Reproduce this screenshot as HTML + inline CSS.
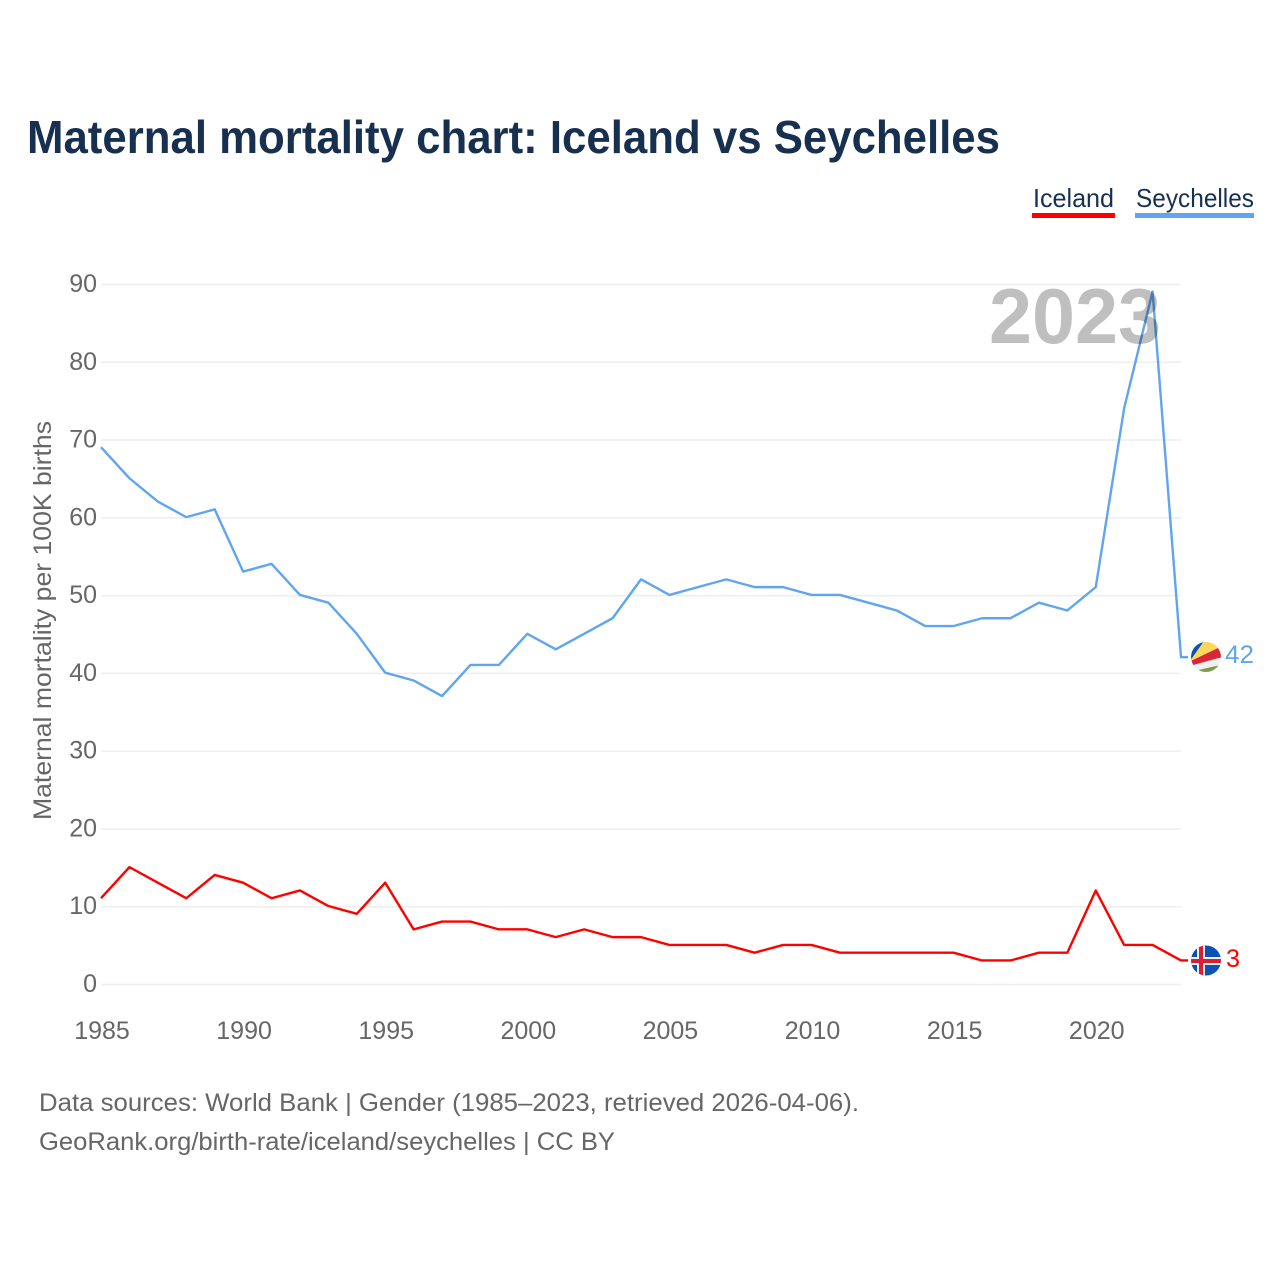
<!DOCTYPE html>
<html lang="en">
<head>
<meta charset="utf-8">
<title>Maternal mortality chart: Iceland vs Seychelles</title>
<style>
html,body{margin:0;padding:0;background:#fff;}
svg{display:block;font-family:"Liberation Sans",sans-serif;}
</style>
</head>
<body>
<svg id="chart" xmlns="http://www.w3.org/2000/svg" width="1280" height="1280" viewBox="0 0 1280 1280">
  <defs>
    <clipPath id="flag-clip-sc"><circle cx="1206" cy="657" r="15"/></clipPath>
    <clipPath id="flag-clip-is"><circle cx="1206" cy="960.5" r="15"/></clipPath>
  </defs>
  <rect width="1280" height="1280" fill="#fff"/>
  <text x="27" y="153" font-size="46" font-weight="700" fill="#18304f" textLength="973" lengthAdjust="spacingAndGlyphs">Maternal mortality chart: Iceland vs Seychelles</text>

  <g>
    <g>
      <text x="1033" y="207" font-size="26" fill="#18304f" textLength="81" lengthAdjust="spacingAndGlyphs">Iceland</text>
      <rect x="1032" y="213" width="83" height="5" fill="#ff0000"/>
    </g>
    <g>
      <text x="1136" y="207" font-size="26" fill="#18304f" textLength="118" lengthAdjust="spacingAndGlyphs">Seychelles</text>
      <rect x="1135" y="213" width="119" height="5" fill="#60a5ee"/>
    </g>
  </g>

  <g id="grid"></g>
  <g id="y-ticks"></g>
  <g id="x-ticks"></g>

  <text transform="translate(51 820) rotate(-90)" font-size="25" fill="#666" textLength="399" lengthAdjust="spacingAndGlyphs">Maternal mortality per 100K births</text>

  <g id="series" transform="translate(0 -0.7)"></g>

  <text x="989" y="343" font-size="78" font-weight="700" fill="#000" fill-opacity="0.25" textLength="172" lengthAdjust="spacingAndGlyphs">2023</text>

  <g clip-path="url(#flag-clip-sc)">
    <rect x="1188" y="638" width="38" height="38" fill="#f1f1f1"/>
    <polygon points="1189.6,661.6 1207,637 1185,637" fill="#0b52b5"/>
    <polygon points="1189.6,661.6 1207,637 1226,637 1226,644.2" fill="#fcd856"/>
    <polygon points="1189.6,661.6 1226,644.2 1226,656 1189.6,666" fill="#d62839"/>
    <polygon points="1190,671.8 1226,663.7 1226,676 1190,676" fill="#7a9e4f"/>
  </g>
  <g clip-path="url(#flag-clip-is)">
    <rect x="1190" y="945" width="32" height="32" fill="#0b52b5"/>
    <rect x="1197" y="945" width="8" height="32" fill="#f1f1f1"/>
    <rect x="1190" y="957" width="32" height="8" fill="#f1f1f1"/>
    <rect x="1199" y="945" width="4" height="32" fill="#dc1e35"/>
    <rect x="1190" y="959" width="32" height="4" fill="#dc1e35"/>
  </g>
  <text x="1225" y="663" font-size="25" fill="#60a5ee" textLength="29" lengthAdjust="spacingAndGlyphs">42</text>
  <text x="1226" y="967" font-size="25" fill="#ff0000" textLength="14" lengthAdjust="spacingAndGlyphs">3</text>

  <text x="39" y="1111" font-size="25" fill="#666" textLength="820" lengthAdjust="spacingAndGlyphs">Data sources: World Bank | Gender (1985–2023, retrieved 2026-04-06).</text>
  <text x="39" y="1150" font-size="25" fill="#666" textLength="576" lengthAdjust="spacingAndGlyphs">GeoRank.org/birth-rate/iceland/seychelles | CC BY</text>
</svg>
<script>
const years = [1985,1986,1987,1988,1989,1990,1991,1992,1993,1994,1995,1996,1997,1998,1999,2000,2001,2002,2003,2004,2005,2006,2007,2008,2009,2010,2011,2012,2013,2014,2015,2016,2017,2018,2019,2020,2021,2022,2023];
const seychellesValues = [69,65,62,60,61,53,54,50,49,45,40,39,37,41,41,45,43,45,47,52,50,51,52,51,51,50,50,49,48,46,46,47,47,49,48,51,74,89,42];
const icelandValues = [11,15,13,11,14,13,11,12,10,9,13,7,8,8,7,7,6,7,6,6,5,5,5,4,5,5,4,4,4,4,4,3,3,4,4,12,5,5,3];
const yTickValues = [0,10,20,30,40,50,60,70,80,90];
const xTickValues = [1985,1990,1995,2000,2005,2010,2015,2020];

const NS = 'http://www.w3.org/2000/svg';
const xScale = function (year) { return 101 + (year - 1985) * (1080 / 38); };
const yScale = function (value) { return 984.5 - value * (700 / 90); };

const gridGroup = document.getElementById('grid');
const yTickGroup = document.getElementById('y-ticks');
const xTickGroup = document.getElementById('x-ticks');
const seriesGroup = document.getElementById('series');

yTickValues.forEach(function (v) {
  const line = document.createElementNS(NS, 'line');
  line.setAttribute('x1', 101);
  line.setAttribute('x2', 1181);
  line.setAttribute('y1', yScale(v));
  line.setAttribute('y2', yScale(v));
  line.setAttribute('stroke', '#eeeeee');
  line.setAttribute('stroke-width', '1.5');
  
  
  gridGroup.appendChild(line);

  const label = document.createElementNS(NS, 'text');
  label.setAttribute('x', 97);
  label.setAttribute('y', yScale(v) + 7.5);
  label.setAttribute('text-anchor', 'end');
  label.setAttribute('font-size', '25');
  label.setAttribute('fill', '#666');
  label.textContent = v;
  
  
  yTickGroup.appendChild(label);
});

xTickValues.forEach(function (y) {
  const label = document.createElementNS(NS, 'text');
  label.setAttribute('x', xScale(y) + 1);
  label.setAttribute('y', 1039);
  label.setAttribute('text-anchor', 'middle');
  label.setAttribute('font-size', '25');
  label.setAttribute('fill', '#666');
  label.textContent = y;
  
  
  xTickGroup.appendChild(label);
});

function drawSeries(values, color, name) {
  const pts = values.map(function (v, i) { return xScale(years[i]).toFixed(2) + ',' + yScale(v).toFixed(2); });
  const last = values[values.length - 1];
  pts.push('1188,' + yScale(last).toFixed(2));
  const line = document.createElementNS(NS, 'polyline');
  line.setAttribute('points', pts.join(' '));
  line.setAttribute('fill', 'none');
  line.setAttribute('stroke', color);
  line.setAttribute('stroke-width', '2.4');
  line.setAttribute('stroke-linejoin', 'round');
  
  
  seriesGroup.appendChild(line);
}
drawSeries(seychellesValues, '#60a5ee', 'seychelles-line');
drawSeries(icelandValues, '#ff0000', 'iceland-line');
</script>
</body>
</html>
